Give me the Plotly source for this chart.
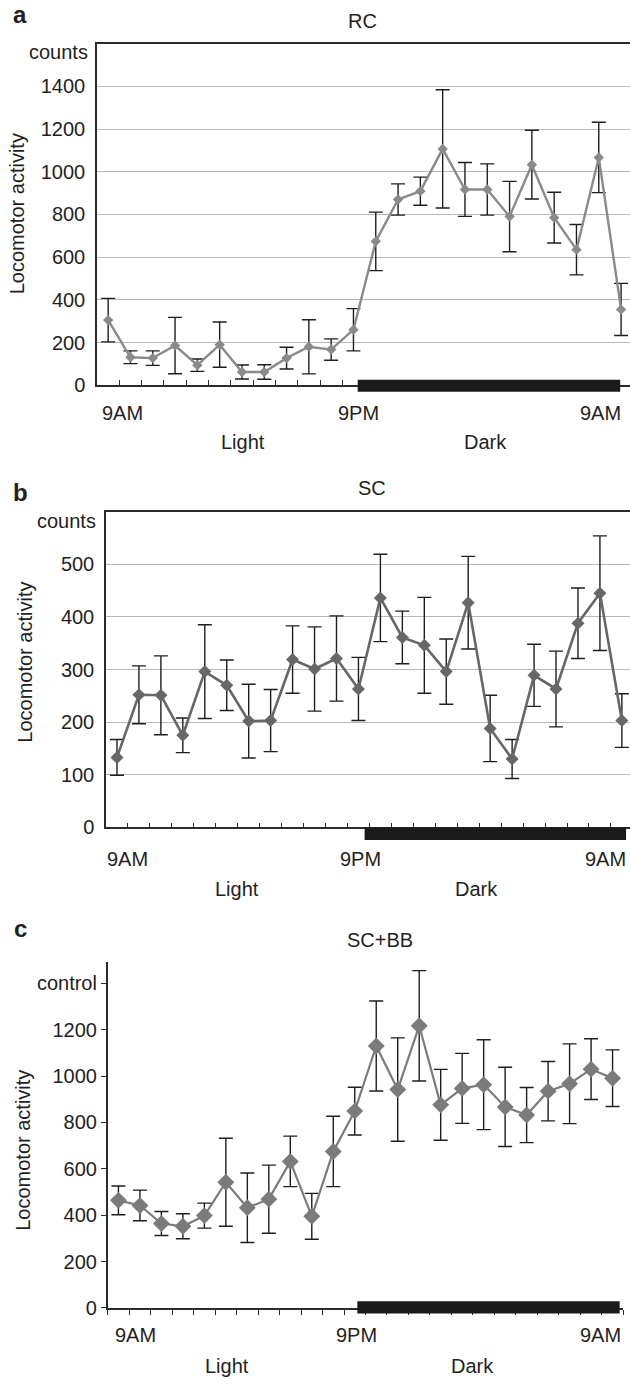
import plotly.graph_objects as go

# ---------------- data ----------------
hours = list(range(24))  # hourly bins starting 9AM

rc_vals = [305, 131, 127, 186, 94, 190, 62, 62, 127, 180, 167, 260,
           674, 870, 909, 1107, 917, 917, 790, 1033, 785, 635, 1067, 355]
rc_err = [102, 30, 34, 132, 29, 106, 33, 34, 51, 127, 50, 99,
          137, 73, 66, 277, 126, 120, 165, 161, 119, 118, 165, 122]

sc_vals = [133, 252, 251, 175, 296, 270, 202, 203, 319, 301, 321, 263,
           436, 361, 346, 296, 427, 188, 130, 289, 263, 388, 445, 203]
sc_err = [34, 55, 75, 33, 89, 48, 70, 59, 64, 80, 81, 60,
          83, 50, 91, 62, 88, 63, 37, 59, 72, 67, 109, 51]

scbb_vals = [464, 442, 364, 352, 398, 542, 432, 469, 632, 395, 675, 849,
             1130, 942, 1217, 876, 947, 963, 867, 832, 935, 967, 1030, 991]
scbb_err = [62, 66, 52, 54, 54, 190, 150, 147, 109, 99, 152, 103,
            194, 223, 238, 153, 151, 194, 171, 119, 128, 172, 131, 122]

titles = ["RC", "SC", "SC+BB"]
panel_letters = ["a", "b", "c"]
time_labels = ["9AM", "9PM", "9AM"]
phase_labels = ["Light", "Dark"]
a_yticks = [0, 200, 400, 600, 800, 1000, 1200, 1400]
b_yticks = [0, 100, 200, 300, 400, 500]
c_yticks = [0, 200, 400, 600, 800, 1000, 1200, 1400]
c_yticktext = ["0", "200", "400", "600", "800", "1000", "1200", "control"]

# ---------------- layout helpers ----------------
W, H = 630, 1389
FONT = "Liberation Sans, Arial, Helvetica, sans-serif"
TXT = "#231f20"


def py(pix):
    return 1 - pix / H


def pxp(pix):
    return pix / W


fig = go.Figure()

boundaries = [i - 0.5 for i in range(25)]

panels = [
    dict(vals=rc_vals, err=rc_err, xa="x", ya="y", xaxis="xaxis", yaxis="yaxis",
         xdom=[pxp(97), 1.0], xr=[-0.5, 23.40], ydom=[py(388.3), py(44)], yr=[0, 1600],
         color="#8a8a8a", msize=8, lw=2.4,
         bar=[11.19, 22.96], bar_y=[382.7, 395], grid=True, frame=True,
         lab_x=[0.63, 11.24, 22.08], lab_y=416, phase_x=[6.05, 16.9], phase_y=446,
         title_xy=(363, 21), letter_y=15, ytitle_xy=(17, 216),
         yticks=a_yticks, yticktext=None, unit=("counts", 52, 90)),
    dict(vals=sc_vals, err=sc_err, xa="x2", ya="y2", xaxis="xaxis2", yaxis="yaxis2",
         xdom=[pxp(106), 1.0], xr=[-0.5, 23.37], ydom=[py(834), py(515.7)], yr=[0, 600],
         color="#676767", msize=10, lw=2.6,
         bar=[11.28, 23.19], bar_y=[834, 846.7], grid=True, frame=True,
         lab_x=[0.46, 11.08, 22.24], lab_y=866, phase_x=[5.49, 16.4], phase_y=896,
         title_xy=(372, 492), letter_y=496, ytitle_xy=(25, 668),
         yticks=b_yticks, yticktext=None, unit=("counts", 525, 98)),
    dict(vals=scbb_vals, err=scbb_err, xa="x3", ya="y3", xaxis="xaxis3", yaxis="yaxis3",
         xdom=[pxp(107.7), pxp(623.3)], xr=[-0.5, 23.5], ydom=[py(1318.3), py(970)], yr=[0, 1491],
         color="#7b7b7b", msize=13, lw=2.2,
         bar=[11.12, 23.33], bar_y=[1311.7, 1324], grid=False, frame=False,
         lab_x=[0.78, 11.09, 22.43], lab_y=1346, phase_x=[5.04, 16.5], phase_y=1377,
         title_xy=(380, 947), letter_y=936, ytitle_xy=(23, 1160),
         yticks=c_yticks, yticktext=c_yticktext, unit=None),
]

annotations = []
shapes = []

for i, p in enumerate(panels):
    fig.add_trace(go.Scatter(
        x=hours, y=p["vals"], mode="lines+markers",
        line=dict(color=p["color"], width=p["lw"]),
        marker=dict(symbol="diamond", size=p["msize"], color=p["color"]),
        error_y=dict(type="data", array=p["err"], visible=True,
                     color="#1e1e1e", thickness=1.4, width=7),
        xaxis=p["xa"], yaxis=p["ya"], showlegend=False, hoverinfo="skip",
    ))

    fig.layout[p["xaxis"]] = dict(
        domain=p["xdom"], range=p["xr"], anchor=p["ya"],
        showgrid=False, zeroline=False, showline=True, linecolor="#2b2b2b", linewidth=1.5,
        mirror=p["frame"],
        tickmode="array", tickvals=boundaries, showticklabels=False,
        ticks="inside" if p["frame"] else "outside", ticklen=5, tickwidth=1.2, tickcolor="#2b2b2b",
        fixedrange=True,
    )
    ycfg = dict(
        domain=p["ydom"], range=p["yr"], anchor=p["xa"],
        showgrid=p["grid"], gridcolor="#b8b8b8", gridwidth=1.2,
        zeroline=False, showline=True, linecolor="#2b2b2b", linewidth=1.5,
        tickmode="array", tickvals=p["yticks"],
        tickfont=dict(family=FONT, size=20, color=TXT),
        fixedrange=True,
    )
    if p["yticktext"] is not None:
        ycfg["ticktext"] = p["yticktext"]
        ycfg.update(ticks="outside", ticklen=5, tickwidth=1.2, tickcolor="#2b2b2b")
    else:
        ycfg.update(ticks="", ticklabelstandoff=6)
    fig.layout[p["yaxis"]] = ycfg

    # dark-period bar
    shapes.append(dict(type="rect", xref=p["xa"], yref="paper",
                       x0=p["bar"][0], x1=p["bar"][1],
                       y0=py(p["bar_y"][1]), y1=py(p["bar_y"][0]),
                       fillcolor="#1a1a1a", line=dict(width=0), layer="above"))

    # time labels
    for lx, lt in zip(p["lab_x"], time_labels):
        annotations.append(dict(x=lx, y=py(p["lab_y"]), xref=p["xa"], yref="paper",
                                text=lt, showarrow=False, xanchor="center", yanchor="middle",
                                font=dict(family=FONT, size=20, color=TXT)))
    for lx, lt in zip(p["phase_x"], phase_labels):
        annotations.append(dict(x=lx, y=py(p["phase_y"]), xref=p["xa"], yref="paper",
                                text=lt, showarrow=False, xanchor="center", yanchor="middle",
                                font=dict(family=FONT, size=20, color=TXT)))
    # title
    annotations.append(dict(x=pxp(p["title_xy"][0]), y=py(p["title_xy"][1]), xref="paper", yref="paper",
                            text=titles[i], showarrow=False, xanchor="center", yanchor="middle",
                            font=dict(family=FONT, size=20, color=TXT)))
    # panel letter
    annotations.append(dict(x=pxp(20), y=py(p["letter_y"]), xref="paper", yref="paper",
                            text="<b>" + panel_letters[i] + "</b>", showarrow=False,
                            xanchor="center", yanchor="middle",
                            font=dict(family=FONT, size=24, color=TXT)))
    # y-axis title
    annotations.append(dict(x=pxp(p["ytitle_xy"][0]), y=py(p["ytitle_xy"][1]), xref="paper", yref="paper",
                            text="Locomotor activity", textangle=-90, showarrow=False,
                            xanchor="center", yanchor="middle",
                            font=dict(family=FONT, size=20, color=TXT)))
    if p["unit"] is not None:
        ut, uy, ux = p["unit"]
        annotations.append(dict(x=pxp(ux), y=py(uy), xref="paper", yref="paper",
                                text=ut, showarrow=False, xanchor="right", yanchor="middle",
                                font=dict(family=FONT, size=20, color=TXT)))

fig.update_layout(
    width=W, height=H,
    margin=dict(l=0, r=0, t=0, b=0),
    paper_bgcolor="white", plot_bgcolor="white",
    annotations=annotations, shapes=shapes,
    font=dict(family=FONT, color=TXT),
)

fig.write_html(
    "out.html",
    config={"displayModeBar": False},
    post_script="document.body.style.margin='0';document.body.style.padding='0';"
                "document.body.style.overflow='hidden';",
)
